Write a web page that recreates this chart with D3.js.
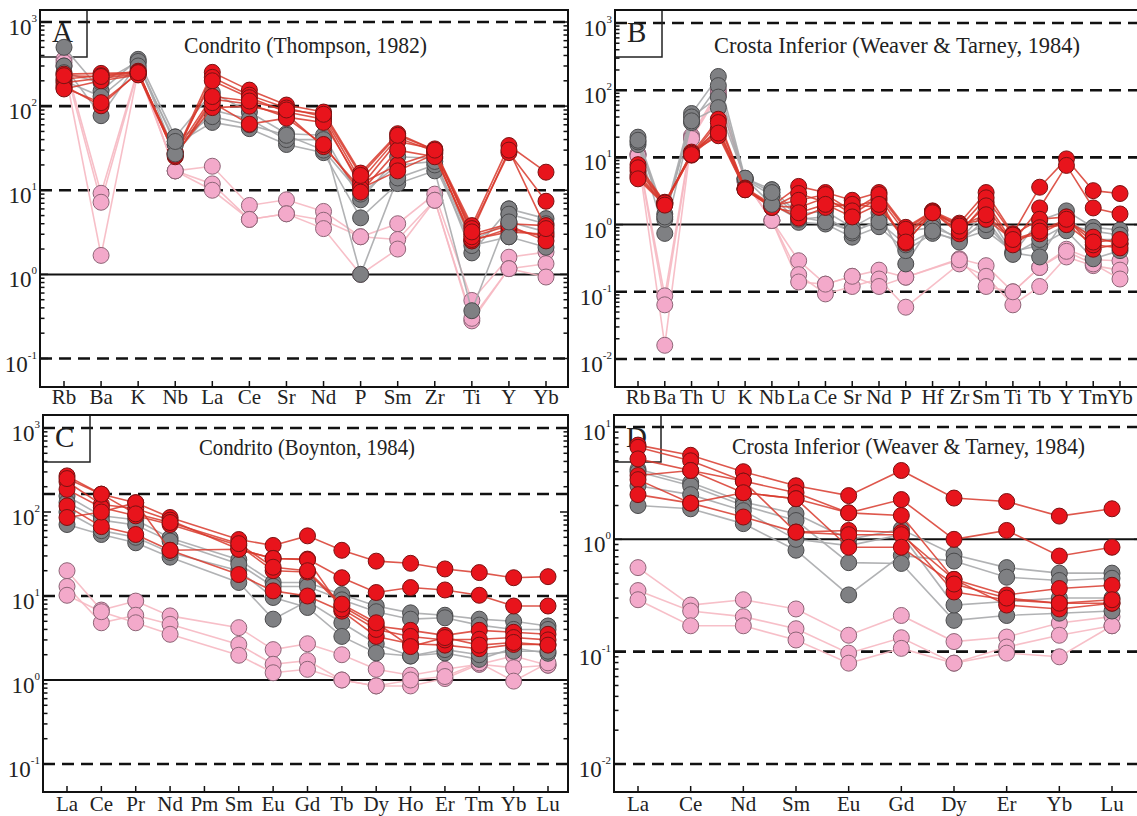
<!DOCTYPE html>
<html>
<head>
<meta charset="utf-8">
<script src="https://cdn.jsdelivr.net/npm/d3@7/dist/d3.min.js"></script>
<style>
  html, body { margin: 0; padding: 0; background: #fff; }
  svg { display: block; }
  text { font-family: "Liberation Serif", "Times New Roman", serif; fill: #222; }
</style>
</head>
<body>
<svg id="chart" width="1137" height="816"></svg>
<script>
// ---------- Panel A: chondrite-normalised multi-element (Thompson, 1982) ----------
const A_ELEMENTS = ["Rb","Ba","K","Nb","La","Ce","Sr","Nd","P","Sm","Zr","Ti","Y","Yb"];
const A_RED = [
  [240, 245, 250, 27, 252, 155, 103, 85, 16, 47, 30, 3.8, 34, 16.4],
  [210, 230, 260, 26, 220, 135, 95, 75, 13, 42, 29, 3.5, 28, 7.4],
  [190, 215, 240, 28, 200, 126, 85, 70, 11, 38, 31, 3.0, 4.0, 3.8],
  [175, 101, 255, 25, 121, 106, 74, 64, 12, 20, 28, 2.5, 3.5, 2.8],
  [165, 110, 245, 27, 96, 100, 80, 33, 10.5, 17, 27, 2.6, 3.2, 3.0],
  [160, 200, 235, 26, 110, 61, 72, 35, 9.5, 30, 25, 2.8, 3.8, 2.5],
  [230, 225, 250, 28, 130, 115, 90, 80, 15, 45, 30, 3.2, 30, 3.5]
];
const A_GRAY = [
  [500, 152, 360, 43, 145, 85, 47, 45, 7.7, 25, 24, 1.8, 6.0, 4.6],
  [300, 77, 330, 35, 64, 54, 35, 28, 4.7, 12, 17, 0.37, 5.2, 4.0],
  [250, 190, 340, 27, 90, 70, 40, 40, 1.0, 14, 20, 2.2, 2.8, 2.1],
  [200, 130, 300, 38, 75, 60, 45, 30, 9.0, 20, 22, 2.5, 4.2, 3.2]
];
const A_PINK = [
  [360, 9.2, 280, 17, 19.3, 6.6, 7.7, 5.6, 2.8, 4.0, 9.0, 0.49, 1.6, 1.84],
  [330, 7.2, 270, 17, 11.9, 4.5, 5.25, 4.4, 2.8, 2.6, 7.6, 0.28, 1.17, 1.34],
  [300, 1.68, 260, 17, 10, 4.5, 5.25, 3.5, 1.0, 2.0, 7.6, 0.30, 1.17, 0.93]
];

// ---------- Panel B: lower-crust-normalised multi-element (Weaver & Tarney, 1984) ----------
const B_ELEMENTS = ["Rb","Ba","Th","U","K","Nb","La","Ce","Sr","Nd","P","Hf","Zr","Sm","Ti","Tb","Y","Tm","Yb"];
const B_RED = [
  [7.8, 2.15, 11.3, 37, 3.4, 1.9, 3.7, 3.0, 2.3, 3.0, 0.91, 1.58, 1.05, 3.0, 0.73, 3.6, 9.5, 3.2, 2.9],
  [6.3, 2.1, 11, 27, 3.4, 1.8, 2.9, 2.15, 1.85, 2.3, 0.53, 1.55, 0.73, 2.15, 0.55, 1.77, 7.6, 1.77, 1.44],
  [5.1, 2.0, 12, 21, 3.3, 1.9, 1.8, 2.5, 1.44, 2.5, 0.75, 1.5, 1.0, 1.2, 0.6, 0.73, 1.15, 0.65, 0.52],
  [5.5, 2.05, 11.5, 25, 3.5, 2.0, 1.25, 1.8, 2.0, 1.8, 0.65, 1.6, 0.9, 2.5, 0.7, 1.2, 1.3, 0.43, 0.52],
  [7.0, 2.1, 10.8, 33, 3.4, 1.9, 2.3, 2.8, 1.6, 2.8, 0.85, 1.55, 0.8, 1.9, 0.5, 0.9, 1.0, 0.5, 0.45],
  [4.8, 1.95, 11, 23, 3.3, 1.8, 1.5, 2.0, 1.3, 2.0, 0.55, 1.5, 0.95, 1.4, 0.6, 0.8, 1.2, 0.55, 0.6]
];
const B_GRAY = [
  [20, 1.44, 45, 160, 4.9, 3.3, 1.44, 1.58, 0.91, 1.5, 0.26, 1.05, 0.58, 1.6, 0.37, 1.15, 1.6, 0.91, 0.83],
  [15.5, 0.74, 33, 117, 4.7, 2.7, 1.08, 1.02, 0.65, 0.93, 0.41, 0.74, 0.6, 0.81, 0.4, 0.49, 0.81, 0.31, 0.41],
  [17, 1.2, 40, 79, 4.8, 2.0, 1.2, 1.3, 0.75, 1.2, 0.8, 0.9, 0.65, 1.0, 0.38, 0.33, 1.3, 0.6, 0.6],
  [18, 1.3, 35, 55, 4.9, 3.0, 1.3, 1.1, 0.8, 1.1, 0.5, 0.8, 0.55, 1.2, 0.36, 0.6, 1.0, 0.8, 0.7]
];
const B_PINK = [
  [11.3, 0.087, 21, 100, 4.5, 1.15, 0.29, 0.13, 0.17, 0.21, 0.165, null, 0.31, 0.245, 0.10, 0.23, 0.43, 0.30, 0.29],
  [11, 0.064, 20, 90, 4.4, 1.15, 0.18, 0.093, 0.12, 0.155, 0.059, null, 0.26, 0.17, 0.064, 0.12, 0.33, 0.245, 0.21],
  [10.5, 0.016, 19, 85, 4.3, 1.15, 0.14, 0.13, 0.17, 0.12, 0.165, null, 0.30, 0.12, 0.10, 0.23, 0.40, 0.26, 0.155]
];

// ---------- Panel C: chondrite-normalised REE (Boynton, 1984) ----------
const C_ELEMENTS = ["La","Ce","Pr","Nd","Pm","Sm","Eu","Gd","Tb","Dy","Ho","Er","Tm","Yb","Lu"];
const C_RED = [
  [269, 163, 129, 86, null, 47, 40, 52, 35, 26, 24.5, 21, 19, 16.5, 17],
  [229, 123, 110, 80, null, 36, 28, 27.5, 16.5, 11, 12.6, 11.8, 10.2, 7.6, 7.6],
  [186, 113, 90, 71, null, 40, 20, 19.3, 7.6, 4.4, 3.9, 3.4, 3.9, 3.7, 3.5],
  [118, 67, 54, 35, null, 18, 11.5, 10, 6.6, 3.3, 2.7, 2.6, 2.36, 2.65, 2.65],
  [86, 100, 129, 35, null, 36, 28, 27, 7.0, 4.0, 3.3, 3.0, 3.05, 3.2, 3.0],
  [250, 163, 95, 75, null, 42, 22, 20, 8.0, 4.8, 2.5, 3.2, 2.6, 2.8, 2.6]
];
const C_GRAY = [
  [155, 90, 81, 49, null, 27, 14.5, 14.5, 10.4, 7.6, 6.3, 5.9, 5.3, 5.0, 4.4],
  [71, 54, 43, 29, null, 14.5, 5.3, 8.7, 4.8, 2.7, 1.93, 2.1, 1.76, 2.4, 2.08],
  [100, 60, 50, 33, null, 20, 9.6, 7.3, 3.3, 2.1, 1.93, 2.3, 2.0, 2.2, 2.2],
  [130, 80, 70, 45, null, 24, 13, 13, 9.0, 6.5, 5.3, 5.5, 4.5, 4.0, 4.0]
];
const C_PINK = [
  [20, 6.8, 8.7, 5.8, null, 4.2, 2.3, 2.7, 2.0, 1.34, 1.14, 1.34, 1.54, 1.93, 1.5],
  [13, 4.8, 5.9, 4.6, null, 2.65, 1.54, 1.7, 1.0, 0.85, 0.85, 1.04, 1.54, 1.4, 1.5],
  [10.2, 6.5, 4.8, 3.5, null, 1.97, 1.22, 1.34, 1.0, 0.85, 1.0, 1.1, 1.6, 0.97, 1.6]
];

// ---------- Panel D: lower-crust-normalised REE (Weaver & Tarney, 1984) ----------
const D_ELEMENTS = ["La","Ce","Nd","Sm","Eu","Gd","Dy","Er","Yb","Lu"];
const D_RED = [
  [6.9, 5.6, 4.0, 3.0, 2.45, 4.1, 2.33, 2.17, 1.61, 1.87],
  [6.6, 5.0, 3.3, 2.6, 1.72, 2.26, 1.0, 1.2, 0.71, 0.85],
  [5.2, 4.1, 2.6, 2.3, 1.72, 1.63, 0.44, 0.32, 0.365, 0.39],
  [3.7, 4.1, 3.3, 1.16, 1.2, 1.15, 0.34, 0.29, 0.27, 0.27],
  [3.4, 2.1, 1.58, 1.16, 1.1, 1.1, 0.44, 0.26, 0.24, 0.27],
  [2.5, 2.1, 2.6, 2.3, 0.85, 0.85, 0.40, 0.30, 0.27, 0.29]
];
const D_GRAY = [
  [4.2, 3.2, 2.15, 1.69, 1.0, 1.23, 0.73, 0.56, 0.50, 0.50],
  [2.0, 1.87, 1.38, 0.8, 0.32, 0.72, 0.64, 0.46, 0.43, 0.45],
  [4.0, 3.0, 2.0, 1.47, 0.62, 0.61, 0.19, 0.21, 0.22, 0.23],
  [3.0, 2.5, 1.8, 1.0, 0.88, 1.1, 0.26, 0.28, 0.30, 0.30]
];
const D_PINK = [
  [0.56, 0.26, 0.29, 0.24, 0.14, 0.21, 0.123, 0.135, 0.18, 0.205],
  [0.35, 0.23, 0.205, 0.16, 0.097, 0.133, 0.079, 0.11, 0.14, 0.17],
  [0.29, 0.17, 0.17, 0.127, 0.079, 0.107, 0.079, 0.097, 0.09, 0.17]
];

// Group styling: drawn pink first, then grey, then red on top
const GROUP_STYLE = {
  pink: { line: "#f6b8c2", fill: "#f3a9ca", stroke: "#8e6577", lineOpacity: 0.9 },
  gray: { line: "#a9aaac", fill: "#7f8083", stroke: "#4a4a4c", lineOpacity: 0.9 },
  red:  { line: "#d8392d", fill: "#e8141c", stroke: "#7a1212", lineOpacity: 0.85 }
};

const svg = d3.select("#chart");
svg.append("rect").attr("width", 1137).attr("height", 816).attr("fill", "#fff");

function drawPanel(p) {
  const g = svg.append("g");
  const x = d3.scalePoint().domain(p.elements).range([p.xFirst, p.xLast]);
  const y = d3.scaleLog().domain([p.lo, p.hi]).range([p.yLo, p.yHi]);

  const clipId = "clip-" + p.letter;
  svg.append("clipPath").attr("id", clipId)
    .append("rect").attr("x", p.left).attr("y", p.top)
    .attr("width", p.right - p.left).attr("height", p.bottom - p.top);

  // reference lines (dashed) and unity line (solid)
  g.selectAll("line.ref").data(p.dashed).join("line")
    .attr("x1", p.left).attr("x2", p.right)
    .attr("y1", d => y(d)).attr("y2", d => y(d))
    .attr("stroke", "#111").attr("stroke-width", 2.6)
    .attr("stroke-dasharray", "12,7");
  g.append("line")
    .attr("x1", p.left).attr("x2", p.right)
    .attr("y1", y(1)).attr("y2", y(1))
    .attr("stroke", "#111").attr("stroke-width", 2);

  // panel letter box
  g.append("rect").attr("x", p.left).attr("y", p.top)
    .attr("width", 47).attr("height", 47)
    .attr("fill", "none").attr("stroke", "#222").attr("stroke-width", 1.5);
  g.append("text").attr("x", p.left + 12).attr("y", p.top + 32)
    .attr("font-size", 29).text(p.letter);

  // title
  g.append("text").attr("x", p.titleX).attr("y", p.titleY)
    .attr("font-size", 23)
    .attr("textLength", p.titleW).attr("lengthAdjust", "spacingAndGlyphs")
    .text(p.title);

  // frame
  g.append("rect").attr("x", p.left).attr("y", p.top)
    .attr("width", p.right - p.left).attr("height", p.bottom - p.top)
    .attr("fill", "none").attr("stroke", "#111").attr("stroke-width", 2);

  // log ticks on left and right edges
  const e0 = Math.round(Math.log10(p.lo)), e1 = Math.round(Math.log10(p.hi));
  const tickVals = [];
  for (let e = e0; e < e1; e++) {
    for (let k = 1; k <= 9; k++) tickVals.push({ v: k * Math.pow(10, e), major: k === 1 });
  }
  tickVals.push({ v: p.hi, major: true });
  [p.left, p.right].forEach((edge, i) => {
    const dir = i === 0 ? 1 : -1;
    g.selectAll(null).data(tickVals).join("line")
      .attr("x1", edge).attr("x2", d => edge + dir * (d.major ? 8 : 4.5))
      .attr("y1", d => y(d.v)).attr("y2", d => y(d.v))
      .attr("stroke", "#111").attr("stroke-width", 1.5);
  });

  // decade labels 10^n
  const decades = d3.range(e0, e1 + 1);
  const lab = g.selectAll(null).data(decades).join("text")
    .attr("x", p.left - 3).attr("y", d => y(Math.pow(10, d)) + 13)
    .attr("text-anchor", "end").attr("font-size", 23);
  lab.append("tspan").text("10");
  lab.append("tspan").attr("font-size", 11).attr("dy", -13).text(d => String(d));

  // category ticks and labels
  g.selectAll(null).data(p.elements).join("line")
    .attr("x1", d => x(d)).attr("x2", d => x(d))
    .attr("y1", p.bottom).attr("y2", p.bottom - 6)
    .attr("stroke", "#111").attr("stroke-width", 1.5);
  g.selectAll(null).data(p.elements).join("text")
    .attr("x", d => x(d)).attr("y", p.bottom + p.labelDy)
    .attr("text-anchor", "middle").attr("font-size", 21)
    .text(d => d);

  // sample patterns
  const plot = g.append("g").attr("clip-path", `url(#${clipId})`);
  const line = d3.line().x(d => x(d.el)).y(d => y(d.v));
  const points = row => row.map((v, i) => ({ el: p.elements[i], v })).filter(d => d.v != null);
  const drawMarkers = (rows, st, keep) => {
    rows.forEach(row => {
      plot.selectAll(null).data(points(row).filter(keep)).join("circle")
        .attr("cx", d => x(d.el)).attr("cy", d => y(d.v)).attr("r", 8)
        .attr("fill", st.fill).attr("stroke", st.stroke).attr("stroke-width", 1);
    });
  };
  p.groups.forEach(([name, rows]) => {
    const st = GROUP_STYLE[name];
    rows.forEach(row => {
      plot.append("path").datum(points(row)).attr("d", line)
        .attr("fill", "none").attr("stroke", st.line)
        .attr("stroke-opacity", st.lineOpacity).attr("stroke-width", 1.6);
    });
    drawMarkers(rows, st, () => true);
  });
  // elements where the grey samples sit above the red ones
  if (p.grayOnTop) {
    const grayRows = p.groups.find(d => d[0] === "gray")[1];
    drawMarkers(grayRows, GROUP_STYLE.gray, d => p.grayOnTop.includes(d.el));
  }
}

drawPanel({
  letter: "A", title: "Condrito (Thompson, 1982)", titleX: 184, titleY: 53, titleW: 243,
  elements: A_ELEMENTS, xFirst: 64, xLast: 546,
  left: 40, right: 568, top: 10, bottom: 387, labelDy: 17,
  lo: 0.1, hi: 1000, yLo: 358.5, yHi: 22,
  dashed: [1000, 100, 10, 0.1],
  grayOnTop: ["Nb", "Y"],
  groups: [["pink", A_PINK], ["gray", A_GRAY], ["red", A_RED]]
});
drawPanel({
  letter: "B", title: "Crosta Inferior (Weaver & Tarney, 1984)", titleX: 714, titleY: 53, titleW: 366,
  elements: B_ELEMENTS, xFirst: 638, xLast: 1120,
  left: 615, right: 1142, top: 10, bottom: 387, labelDy: 17,
  lo: 0.01, hi: 1000, yLo: 359, yHi: 23,
  dashed: [1000, 100, 10, 0.1, 0.01],
  grayOnTop: ["Nb"],
  groups: [["pink", B_PINK], ["gray", B_GRAY], ["red", B_RED]]
});
drawPanel({
  letter: "C", title: "Condrito (Boynton, 1984)", titleX: 199, titleY: 455, titleW: 216,
  elements: C_ELEMENTS, xFirst: 67, xLast: 548,
  left: 43, right: 568, top: 415, bottom: 792, labelDy: 19,
  lo: 0.1, hi: 1000, yLo: 764, yHi: 428,
  dashed: [1000, 164, 10, 0.1],
  groups: [["pink", C_PINK], ["gray", C_GRAY], ["red", C_RED]]
});
drawPanel({
  letter: "D", title: "Crosta Inferior (Weaver & Tarney, 1984)", titleX: 732, titleY: 454, titleW: 353,
  elements: D_ELEMENTS, xFirst: 638, xLast: 1112,
  left: 614, right: 1142, top: 415, bottom: 792, labelDy: 19,
  lo: 0.01, hi: 10, yLo: 764, yHi: 427,
  dashed: [10, 0.1, 0.01],
  groups: [["pink", D_PINK], ["gray", D_GRAY], ["red", D_RED]]
});
</script>
</body>
</html>
